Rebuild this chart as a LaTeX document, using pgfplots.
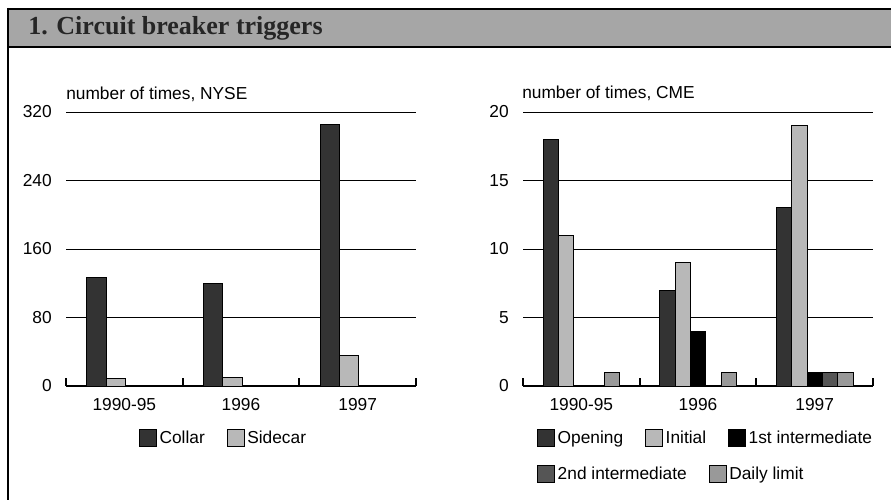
\documentclass[border=0pt]{standalone}
\usepackage{fontspec}
\setmainfont{Liberation Sans}
\newfontfamily\titlefont{Liberation Serif}
\usepackage{pgfplots}
\pgfplotsset{compat=1.18}
\definecolor{cdark}{RGB}{51,51,51}
\definecolor{clight}{RGB}{184,184,184}
\definecolor{cmid}{RGB}{85,85,85}
\definecolor{cdaily}{RGB}{153,153,153}
\definecolor{cbar}{RGB}{166,166,166}
\pgfplotsset{
  base/.style={
    scale only axis,
    width=262.5pt, height=205.5pt,
    xmin=-0.5, xmax=2.5, ymin=0,
    axis x line*=bottom, axis y line*=left,
    y axis line style={draw=none},
    x axis line style={line width=1.5pt},
    xtick={0,1,2},
    xticklabels={1990-95,1996,1997},
    x tick style={draw=none},
    y tick style={draw=none},
    extra x ticks={-0.5,0.5,1.5,2.5},
    extra x tick labels={},
    extra x tick style={x tick style={draw=black, line width=1.5pt}, major tick length=6pt, tick align=inside},
    ymajorgrids,
    grid style={black, line width=0.6pt},
    tick label style={font=\fontsize{13}{15}\selectfont},
    /pgf/number format/assume math mode=true,
    yticklabel style={anchor=east, inner sep=0pt, xshift=-10.5pt},
    xticklabel style={anchor=north, inner sep=0pt, yshift=-5pt},
    ybar,
    every axis plot/.append style={draw=black, line width=0.6pt},
    legend image code/.code={\draw[#1, line width=0.6pt] (0pt,-6.375pt) rectangle (12.75pt,6.375pt);},
    legend style={draw=none, fill=none, inner sep=0pt, legend columns=-1,
      font=\fontsize{13}{15}\selectfont,
      nodes={inner sep=2pt},
      /tikz/every even column/.append style={column sep=14.5pt}},
  }
}
\begin{document}
\begin{tikzpicture}
\useasboundingbox (0,0) rectangle (668.25pt,375pt);
% title bar
\fill[cbar] (6pt,368.25pt) rectangle (668.25pt,340.1pt);
\draw[line width=1.5pt] (6pt,368.25pt) -- (668.25pt,368.25pt);
\draw[line width=1.5pt] (6pt,340.1pt) -- (668.25pt,340.1pt);
\draw[line width=1.5pt] (6pt,369pt) -- (6pt,0pt);
\node[anchor=base west, inner sep=0pt, font=\titlefont\bfseries\fontsize{19.5}{22}\selectfont, text=black!85] at (21pt,348.75pt) {1. Circuit breaker triggers};
% left panel
\node[anchor=base west, inner sep=0pt, font=\fontsize{13}{15}\selectfont] at (49.5pt,300pt) {number of times, NYSE};
\begin{axis}[base, at={(49.5pt,85.5pt)}, anchor=south west,
  ymax=320, ytick={0,80,160,240,320}, bar width=14.5pt,
  legend style={at={(0.208,-0.19)}, anchor=west}]
\addplot[fill=cdark, bar shift=-21pt] coordinates {(0,127) (1,120) (2,305)};
\addplot[fill=clight, bar shift=-6.5pt] coordinates {(0,9) (1,10) (2,36)};
\legend{Collar,Sidecar}
\end{axis}
% right panel
\node[anchor=base west, inner sep=0pt, font=\fontsize{13}{15}\selectfont] at (391.5pt,300.75pt) {number of times, CME};
\begin{axis}[base, at={(392.25pt,85.5pt)}, anchor=south west,
  ymax=20, ytick={0,5,10,15,20}, bar width=11.5pt,
  legend style={at={(0.04,-0.19)}, anchor=west}]
\addplot[fill=cdark, bar shift=-23pt] coordinates {(0,18) (1,7) (2,13)};
\addplot[fill=clight, bar shift=-11.5pt] coordinates {(0,11) (1,9) (2,19)};
\addplot[fill=black, bar shift=0pt] coordinates {(1,4) (2,1)};
\addplot[fill=cmid, bar shift=11.5pt, forget plot] coordinates {(2,1)};
\addplot[fill=cdaily, bar shift=23pt, forget plot] coordinates {(0,1) (1,1) (2,1)};
\legend{Opening,Initial,1st intermediate}
\end{axis}
\begin{axis}[base, at={(392.25pt,85.5pt)}, anchor=south west, hide axis,
  ymax=20, legend style={at={(0.04,-0.3225)}, anchor=west}]
\addlegendimage{fill=cmid, draw=black}
\addlegendentry{2nd intermediate}
\addlegendimage{fill=cdaily, draw=black}
\addlegendentry{Daily limit}
\end{axis}
\end{tikzpicture}
\end{document}
